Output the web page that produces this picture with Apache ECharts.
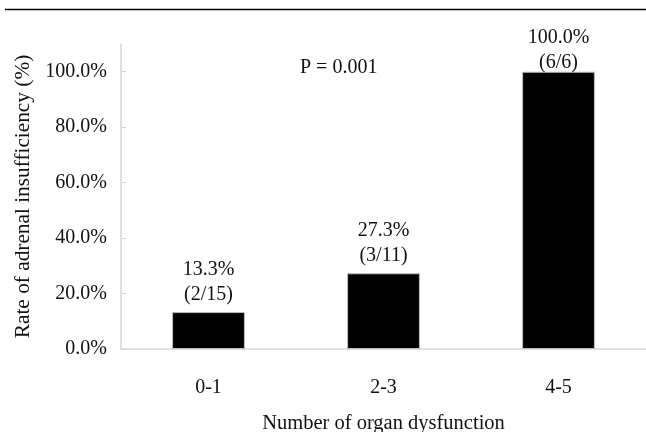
<!DOCTYPE html>
<html>
<head>
<meta charset="utf-8">
<script src="https://cdn.jsdelivr.net/npm/echarts@6/dist/echarts.min.js"></script>
<style>html,body{margin:0;padding:0;background:#fff;}#c{width:646px;height:432px;}</style>
</head>
<body>
<div id="c"></div>
<script>
var categories = ['0-1', '2-3', '4-5'];
var rates = [13.3, 27.3, 100.0];
var counts = ['(2/15)', '(3/11)', '(6/6)'];
var yTicks = [0, 20, 40, 60, 80, 100];
var pText = 'P = 0.001';

var FONT = 'Liberation Serif';
var chart = echarts.init(document.getElementById('c'));
var data = rates.map(function (v, i) {
  return {
    value: v,
    label: { distance: i === 2 ? -4 : 4.5 }
  };
});
chart.setOption({
  animation: false,
  textStyle: { fontFamily: FONT },
  grid: { left: 121, right: 0, top: 44, bottom: 83, outerBoundsMode: 'none', containLabel: false },
  xAxis: {
    type: 'category',
    data: categories,
    name: 'Number of organ dysfunction',
    nameLocation: 'middle',
    nameGap: 64,
    nameTextStyle: { fontFamily: FONT, fontSize: 20.5, color: '#111' },
    axisLine: { lineStyle: { color: '#d6d6d6', width: 1.5 } },
    axisTick: { inside: true, length: 6, lineStyle: { color: '#d6d6d6' } },
    axisLabel: { margin: 29, fontFamily: FONT, fontSize: 20, color: '#111' }
  },
  yAxis: {
    type: 'value',
    min: 0,
    max: 110,
    name: 'Rate of adrenal insufficiency (%)',
    nameLocation: 'middle',
    nameGap: 87,
    nameTextStyle: { fontFamily: FONT, fontSize: 21.3, color: '#111' },
    splitLine: { show: false },
    axisLine: { show: true, lineStyle: { color: '#d6d6d6', width: 1.5 } },
    axisTick: { show: true, inside: true, length: 5, customValues: yTicks, lineStyle: { color: '#d6d6d6' } },
    axisLabel: {
      margin: 14, fontFamily: FONT, fontSize: 20, color: '#111',
      customValues: yTicks,
      formatter: function (v) { return v.toFixed(1) + '%'; }
    }
  },
  series: [{
    type: 'bar',
    data: data,
    barWidth: '41.6%',
    itemStyle: { color: '#000', borderColor: '#bbb', borderWidth: 1 },
    label: {
      show: true,
      position: 'top',
      fontFamily: FONT,
      fontSize: 20,
      lineHeight: 25.5,
      color: '#111',
      formatter: function (p) { return p.value.toFixed(1) + '%\n' + counts[p.dataIndex]; }
    }
  }],
  graphic: [
    { type: 'line', shape: { x1: 5, y1: 9.5, x2: 646, y2: 9.5 }, style: { stroke: '#000', lineWidth: 1.5 } },
    { type: 'text', left: 300, top: 58, style: { text: pText, font: '20px "Liberation Serif"', fill: '#111' } }
  ]
});
</script>
</body>
</html>
